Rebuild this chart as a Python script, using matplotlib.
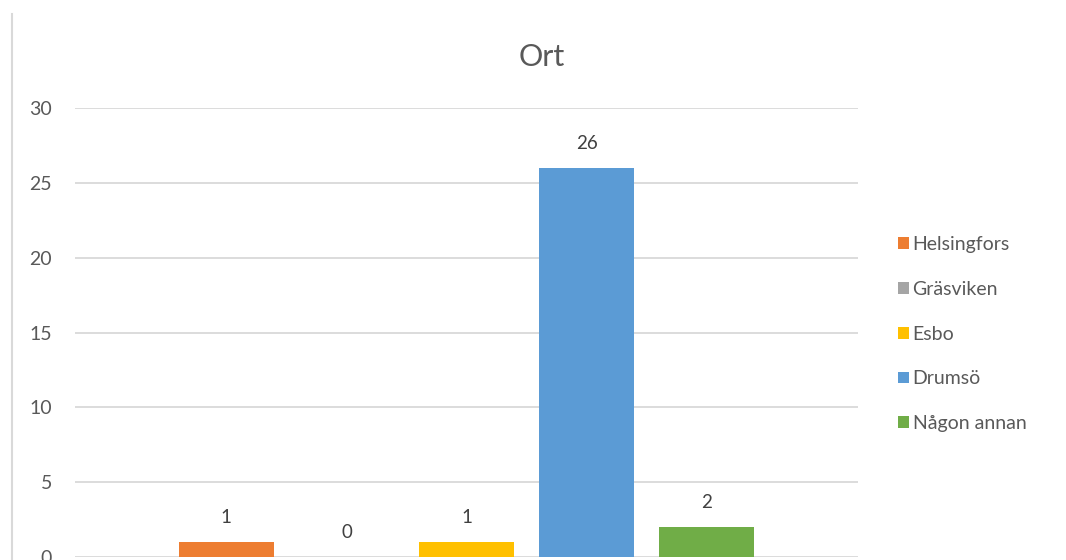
import matplotlib.pyplot as plt
from matplotlib.lines import Line2D
from matplotlib.patches import Patch

plt.rcParams['font.family'] = ['Lato', 'DejaVu Sans']

title = "Ort"
labels = ["Helsingfors", "Gräsviken", "Esbo", "Drumsö", "Någon annan"]
values = [1, 0, 1, 26, 2]
colors = ["#ED7D31", "#A5A5A5", "#FFC000", "#5B9BD5", "#70AD47"]
yticks = [0, 5, 10, 15, 20, 25, 30]

text_color = "#595959"
step = 0.1533
width = 0.121

fig = plt.figure(figsize=(10.66, 5.6), dpi=100)
ax = fig.add_axes([75 / 1066, 3 / 560, 783 / 1066, 449 / 560])

n = len(values)
for i, (lab, v, c) in enumerate(zip(labels, values, colors)):
    x = (i - (n - 1) / 2) * step
    ax.bar(x, v, width=width, color=c, label=lab, zorder=3)
    ax.annotate(str(v), (x, v), xytext=(0, 13.5), textcoords="offset points",
                ha="center", va="baseline", fontsize=13.5, color="#404040")

ax.set_xlim(-0.5, 0.5)
ax.set_ylim(0, 30)
ax.set_yticks(yticks)
ax.set_xticks([])
ax.grid(axis="y", color="#D9D9D9", linewidth=1.3, zorder=0)
for s in ax.spines.values():
    s.set_visible(False)
ax.tick_params(axis="y", length=0, pad=16.5, labelsize=14, labelcolor=text_color)

fig.text(542 / 1066, 1 - 57 / 560, title, ha="center", va="center",
         fontsize=22, color=text_color)

handles = [Patch(facecolor=c, edgecolor="none") for c in colors]
fig.legend(handles, labels, loc="upper left", bbox_to_anchor=(898 / 1066, 1 - 236 / 560),
           frameon=False, fontsize=14, labelcolor=text_color,
           handlelength=0.55, handleheight=0.55, handletextpad=0.2,
           labelspacing=1.43, borderpad=0, borderaxespad=0)

# thin frame line on the left side
fig.add_artist(Line2D([11.5 / 1066, 11.5 / 1066], [0, 1 - 14 / 560],
                      color="#D9D9D9", linewidth=1.5))

fig.savefig("out.png", dpi=100)
